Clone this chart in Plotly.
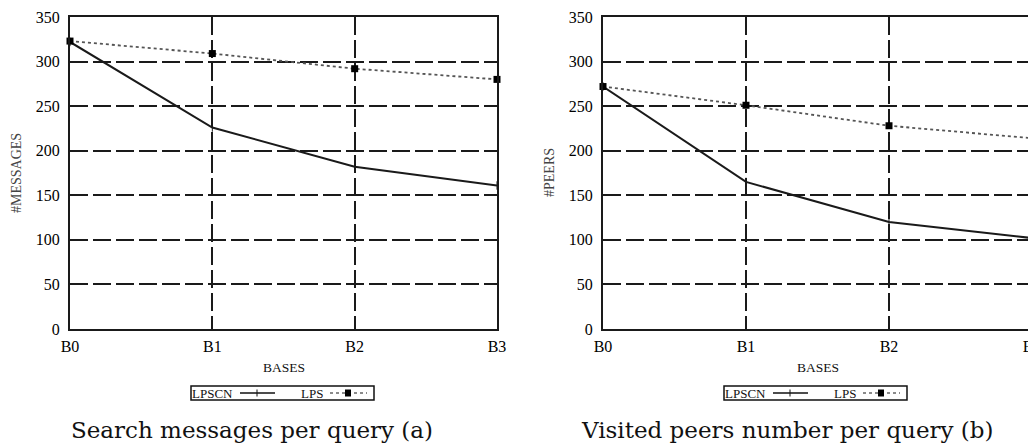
import plotly.graph_objects as go

# page body has an 8px margin; work in reference pixel coordinates and shift
OFF = 8
W, H = 1036 - OFF, 446 - OFF

categories = ["B0", "B1", "B2", "B3"]
y_ticks = [0, 50, 100, 150, 200, 250, 300, 350]

msg_lpscn = [322, 226, 182, 161]
msg_lps = [323, 309, 292, 280]

peers_lpscn = [272, 165, 120, 102]
peers_lps = [272, 251, 228, 214]

series_names = ["LPSCN", "LPS"]
y_titles = ["#MESSAGES", "#PEERS"]
captions = ["Search messages per query (a)", "Visited peers number per query (b)"]

SERIF = "Liberation Serif"
CAPTION_FONT = "DejaVu Serif"


def px(x):
    return (x - OFF) / W


def py(y):
    return 1 - (y - OFF) / H


fig = go.Figure()

panels = [
    dict(data=(msg_lpscn, msg_lps), left=70, right=497, cap_x=252),
    dict(data=(peers_lpscn, peers_lps), left=603, right=1032, cap_x=787),
]
top, bottom = 17, 329
xs = list(range(len(categories)))

shapes = []
annotations = []


def note(x, y, text, size, color="#111111", anchor="center", angle=0, family=SERIF):
    annotations.append(dict(
        x=px(x), y=py(y), xref="paper", yref="paper", xanchor=anchor,
        yanchor="middle", text=text, textangle=angle, showarrow=False,
        font=dict(family=family, size=size, color=color),
    ))


for i, p in enumerate(panels):
    ax = "" if i == 0 else str(i + 1)
    lpscn, lps = p["data"]
    fig.add_trace(go.Scatter(
        x=xs, y=lpscn, name=series_names[0], mode="lines+markers",
        line=dict(color="#1a1a1a", width=2),
        marker=dict(symbol="line-ns", size=6, line=dict(color="#1a1a1a", width=1)),
        xaxis="x" + ax, yaxis="y" + ax, showlegend=False, cliponaxis=False,
    ))
    fig.add_trace(go.Scatter(
        x=xs, y=lps, name=series_names[1], mode="lines+markers",
        line=dict(color="#555555", width=1.8, dash="dot"),
        marker=dict(symbol="square", size=7, color="#000000"),
        xaxis="x" + ax, yaxis="y" + ax, showlegend=False, cliponaxis=False,
    ))
    common = dict(
        showline=True, mirror=True, linecolor="#1a1a1a", linewidth=2,
        showgrid=True, gridcolor="#1a1a1a", gridwidth=1.6, griddash="18px,5px",
        zeroline=False, ticks="outside", tickcolor="rgba(0,0,0,0)",
        tickfont=dict(family=SERIF, size=16, color="#000000"),
        automargin=False, ticklabeloverflow="allow",
    )
    fig.update_layout(**{
        "xaxis" + ax: dict(
            domain=[px(p["left"]), px(p["right"])], anchor="y" + ax,
            range=[0, 3], tickvals=xs, ticktext=categories, ticklen=2,
            **common,
        ),
        "yaxis" + ax: dict(
            domain=[py(bottom), py(top)], anchor="x" + ax,
            range=[0, 350], tickvals=y_ticks, ticklen=5,
            **common,
        ),
    })
    cx = (p["left"] + p["right"]) / 2
    note(p["left"] - 53, 173, y_titles[i], 14, color="#444444", angle=-90)
    note(cx, 367, "BASES", 13.5)
    note(p["cap_x"], 430, captions[i], 23, family=CAPTION_FONT)
    # legend box
    off = p["left"] - 70
    lx0, lx1, ly0, ly1 = 191 + off, 374 + off, 386, 400
    shapes.append(dict(type="rect", xref="paper", yref="paper",
                       x0=px(lx0), x1=px(lx1), y0=py(ly1), y1=py(ly0),
                       line=dict(color="#111111", width=1.5)))
    note(lx0 - 1, 393, series_names[0], 13, anchor="left")
    shapes.append(dict(type="line", xref="paper", yref="paper",
                       x0=px(240 + off), x1=px(275 + off), y0=py(393), y1=py(393),
                       line=dict(color="#111111", width=1.5)))
    shapes.append(dict(type="line", xref="paper", yref="paper",
                       x0=px(257 + off), x1=px(257 + off), y0=py(389.5), y1=py(396.5),
                       line=dict(color="#111111", width=1)))
    note(299 + off, 393, series_names[1], 13, anchor="left")
    shapes.append(dict(type="line", xref="paper", yref="paper",
                       x0=px(330 + off), x1=px(367 + off), y0=py(393), y1=py(393),
                       line=dict(color="#666666", width=1.5, dash="dot")))
    shapes.append(dict(type="rect", xref="paper", yref="paper",
                       x0=px(345 + off), x1=px(351 + off), y0=py(396.5), y1=py(389.5),
                       fillcolor="#000000", line=dict(width=0)))

fig.update_layout(
    width=W, height=H, margin=dict(l=0, r=0, t=0, b=0, autoexpand=False),
    paper_bgcolor="white", plot_bgcolor="white",
    shapes=shapes, annotations=annotations, showlegend=False,
)

fig.write_html("out.html")
